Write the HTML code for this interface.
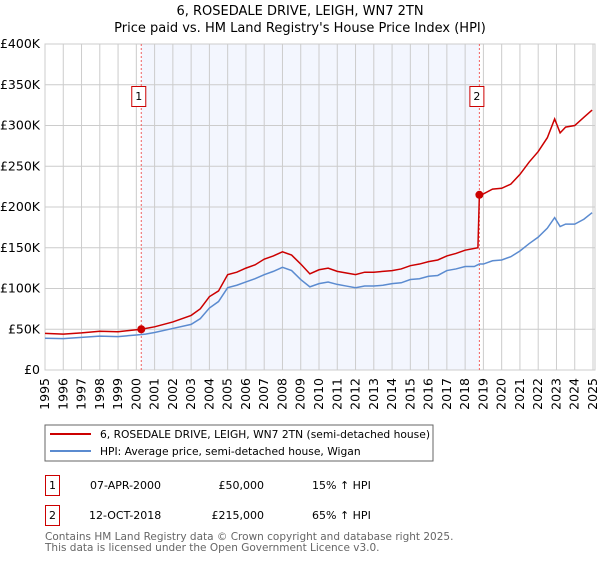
<!DOCTYPE html>
<html><head><meta charset="utf-8"><style>
body{margin:0;background:#fff;font-family:"DejaVu Sans","Liberation Sans",sans-serif;}
svg text{font-family:"DejaVu Sans","Liberation Sans",sans-serif;}
</style></head><body>
<svg id="c" width="600" height="560" xmlns="http://www.w3.org/2000/svg">
<text x="300" y="15" text-anchor="middle" font-size="13" fill="#000">6, ROSEDALE DRIVE, LEIGH, WN7 2TN</text>
<text x="300" y="32" text-anchor="middle" font-size="13" fill="#000">Price paid vs. HM Land Registry's House Price Index (HPI)</text>
<g id="plot"></g>
<rect x="45" y="425" width="388" height="36" fill="#fff" stroke="#666"/>
<line x1="50" y1="434" x2="91" y2="434" stroke="#cc0000" stroke-width="2"/>
<text x="100" y="438" font-size="10.7">6, ROSEDALE DRIVE, LEIGH, WN7 2TN (semi-detached house)</text>
<line x1="50" y1="451" x2="91" y2="451" stroke="#5b8bd0" stroke-width="2"/>
<text x="100" y="455" font-size="10.7">HPI: Average price, semi-detached house, Wigan</text>
<g>
<rect x="45.5" y="475.5" width="14" height="20" fill="none" stroke="#cc0000"/>
<text x="52.5" y="489" font-size="11" text-anchor="middle">1</text>
<text x="90" y="489" font-size="11">07-APR-2000</text>
<text x="264" y="489" font-size="11" text-anchor="end">£50,000</text>
<text x="312" y="489" font-size="11">15% ↑ HPI</text></g>
<g>
<rect x="45.5" y="505.5" width="14" height="20" fill="none" stroke="#cc0000"/>
<text x="52.5" y="519" font-size="11" text-anchor="middle">2</text>
<text x="89" y="519" font-size="11">12-OCT-2018</text>
<text x="264" y="519" font-size="11" text-anchor="end">£215,000</text>
<text x="312" y="519" font-size="11">65% ↑ HPI</text></g>
<text x="45" y="540" font-size="10.5" fill="#666">Contains HM Land Registry data © Crown copyright and database right 2025.</text>
<text x="45" y="551" font-size="10.5" fill="#666">This data is licensed under the Open Government Licence v3.0.</text>
</svg>
<script>
const yTicks=[0,50000,100000,150000,200000,250000,300000,350000,400000];
const yTickLabels=["£0","£50K","£100K","£150K","£200K","£250K","£300K","£350K","£400K"];
const xYears=[1995,1996,1997,1998,1999,2000,2001,2002,2003,2004,2005,2006,2007,2008,2009,2010,2011,2012,2013,2014,2015,2016,2017,2018,2019,2020,2021,2022,2023,2024,2025];
const hpiX=[1995,1996,1997,1998,1999,2000,2000.5,2001,2002,2003,2003.5,2004,2004.5,2005,2005.5,2006,2006.5,2007,2007.5,2008,2008.5,2009,2009.5,2010,2010.5,2011,2011.5,2012,2012.5,2013,2013.5,2014,2014.5,2015,2015.5,2016,2016.5,2017,2017.5,2018,2018.5,2018.78,2019,2019.5,2020,2020.5,2021,2021.5,2022,2022.5,2022.9,2023.2,2023.5,2024,2024.5,2024.95];
const hpiY=[39,38.5,40,41.5,41,43,44,46,51,56,63,76,84,101,104,108,112,117,121,126,122,111,102,106,108,105,103,101,103,103,104,106,107,111,112,115,116,122,124,127,127,130,130,134,135,139,146,155,163,174,187,176,179,179,185,193];
const priceX=[1995,1996,1997,1998,1999,2000.27,2001,2002,2003,2003.5,2004,2004.5,2005,2005.5,2006,2006.5,2007,2007.5,2008,2008.5,2009,2009.5,2010,2010.5,2011,2011.5,2012,2012.5,2013,2013.5,2014,2014.5,2015,2015.5,2016,2016.5,2017,2017.5,2018,2018.7,2018.78,2019,2019.5,2020,2020.5,2021,2021.5,2022,2022.5,2022.9,2023.2,2023.5,2024,2024.5,2024.95];
const priceY=[45,44,45.5,47.5,47,50,53,59,67,75,90,97,117,120,125,129,136,140,145,141,130,118,123,125,121,119,117,120,120,121,122,124,128,130,133,135,140,143,147,150,215,216,222,223,228,240,255,268,285,308,291,298,300,310,319];
const saleX=[2000.27,2018.78];
const saleY=[50000,215000];
const saleLabels=["1","2"];
const NS="http://www.w3.org/2000/svg";
const L=45,R=595,T=44,B=370;
const x=y=>L+(y-1995)/30*(593-L);
const yv=v=>B-v/400000*(B-T);
const g=document.getElementById('plot');
function mk(t,a){const e=document.createElementNS(NS,t);for(const k in a)e.setAttribute(k,a[k]);g.appendChild(e);return e;}
let e=mk('rect',{x:x(saleX[0]),y:T,width:x(saleX[1])-x(saleX[0]),height:B-T,fill:'#f3f6fe'});


yTicks.forEach((v,i)=>{
 let l=mk('line',{x1:L,x2:R,y1:yv(v),y2:yv(v),stroke:'#ccc'});
 
 
 let t=mk('text',{x:40,y:yv(v)+4,'text-anchor':'end','font-size':12.5});
 t.textContent=yTickLabels[i];
 
 
});
xYears.forEach(yr=>{
 let l=mk('line',{x1:x(yr),x2:x(yr),y1:T,y2:B,stroke:'#ccc'});
 
 
 let t=mk('text',{x:0,y:0,'text-anchor':'end','font-size':12.5,transform:`translate(${x(yr)+4},${B+8}) rotate(-90)`});
 t.textContent=yr;
 
 
});
e=mk('rect',{x:L,y:T,width:R-L,height:B-T,fill:'none',stroke:'#ccc'});


saleX.forEach((s,i)=>{
 let l=mk('line',{x1:x(s),x2:x(s),y1:T,y2:B,stroke:'#f06060','stroke-dasharray':'2,2'});
 
 
});
let hp=hpiX.map((v,i)=>x(v)+','+yv(hpiY[i]*1000)).join(' ');
e=mk('polyline',{points:hp,fill:'none',stroke:'#5b8bd0','stroke-width':1.5});


let pp=priceX.map((v,i)=>x(v)+','+yv(priceY[i]*1000)).join(' ');
e=mk('polyline',{points:pp,fill:'none',stroke:'#cc0000','stroke-width':1.5});


saleX.forEach((s,i)=>{
 let c=mk('circle',{cx:x(s),cy:yv(saleY[i]),r:4,fill:'#cc0000'});
 
 
 let r=mk('rect',{x:x(s)-9.5,y:86.5,width:14,height:20,fill:'#fff',stroke:'#cc0000'});
 
 
 let t=mk('text',{x:x(s)-2.5,y:100,'text-anchor':'middle','font-size':11});
 t.textContent=saleLabels[i];
 
 
});
</script>
</body></html>
